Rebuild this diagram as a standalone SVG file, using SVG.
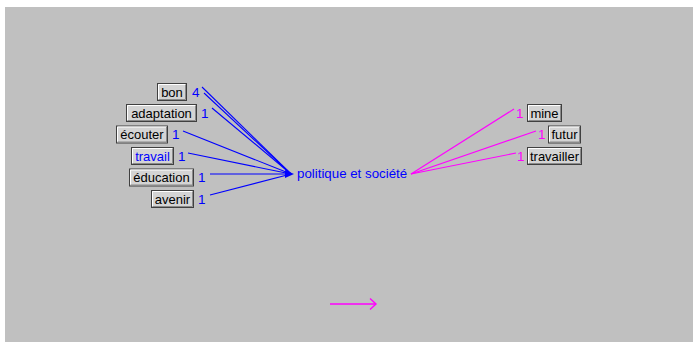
<svg xmlns="http://www.w3.org/2000/svg" width="693" height="342" viewBox="0 0 693 342">
<style>
.bg{fill:#c0c0c0}
.btn{fill:#d4d4d4;stroke:#404040;stroke-width:1}
.hl{fill:none;stroke:#ffffff;stroke-width:1}
.sh{fill:none;stroke:#8a8a8a;stroke-width:1}
.lbl{font-family:"Liberation Sans",Arial,sans-serif;font-size:13px;fill:#000}
.lblb{font-family:"Liberation Sans",Arial,sans-serif;font-size:13px;fill:#0000ff}
.nb{font-family:"Liberation Sans",Arial,sans-serif;font-size:13.5px;fill:#0000ff}
.nm{font-family:"Liberation Sans",Arial,sans-serif;font-size:13.5px;fill:#ff00ff}
.hub{font-family:"Liberation Sans",Arial,sans-serif;font-size:13.3px;fill:#0000ff}
.lb{stroke:#0000ff;stroke-width:1.1;fill:none}
.lm{stroke:#ff00ff;stroke-width:1.1;fill:none}
</style>
<rect x="0" y="0" width="693" height="342" fill="#ffffff"/>
<rect class="bg" x="5" y="7" width="688" height="335"/>
<g id="connectors">
<line class="lb" x1="202" y1="87" x2="291" y2="174"/>
<line class="lb" x1="204" y1="93" x2="291" y2="174"/>
<line class="lb" x1="212" y1="108" x2="291" y2="174"/>
<line class="lb" x1="183" y1="131" x2="291" y2="174"/>
<line class="lb" x1="188" y1="153" x2="291" y2="174"/>
<line class="lb" x1="210" y1="174" x2="291" y2="174"/>
<line class="lb" x1="210" y1="195" x2="291" y2="174"/>
<polygon points="285,170 294,174 285,178" fill="#0000ff"/>
<line class="lm" x1="411" y1="174" x2="514" y2="109"/>
<line class="lm" x1="411" y1="174" x2="536" y2="131"/>
<line class="lm" x1="411" y1="174" x2="516" y2="153"/>
<g id="legend-arrow">
<line x1="330" y1="304" x2="376" y2="304" stroke="#ff00ff" stroke-width="1.6"/>
<polyline points="370,298.5 376,304 370,309.5" fill="none" stroke="#ff00ff" stroke-width="1.4"/>
</g>
</g>
<g id="hub"><text class="hub" x="297" y="178">politique et société</text></g>
<g id="n-bon">
<rect class="btn" x="157.5" y="83.5" width="29" height="17"/>
<polyline class="hl" points="158.5,99.5 158.5,84.5 185.5,84.5"/>
<polyline class="sh" points="158.5,99.5 185.5,99.5 185.5,84.5"/>
<text class="lbl" x="172" y="96.5" text-anchor="middle">bon</text>
<text class="nb" x="192" y="96.5">4</text>
</g>
<g id="n-adaptation">
<rect class="btn" x="126.5" y="104.5" width="70" height="17"/>
<polyline class="hl" points="127.5,120.5 127.5,105.5 195.5,105.5"/>
<polyline class="sh" points="127.5,120.5 195.5,120.5 195.5,105.5"/>
<text class="lbl" x="161.5" y="117.5" text-anchor="middle">adaptation</text>
<text class="nb" x="201" y="117.5">1</text>
</g>
<g id="n-ecouter">
<rect class="btn" x="116.5" y="126" width="51" height="17"/>
<polyline class="hl" points="117.5,142 117.5,127 166.5,127"/>
<polyline class="sh" points="117.5,142 166.5,142 166.5,127"/>
<text class="lbl" x="142" y="139" text-anchor="middle">écouter</text>
<text class="nb" x="172" y="139">1</text>
</g>
<g id="n-travail">
<rect class="btn" x="131.5" y="147.5" width="42" height="17"/>
<polyline class="hl" points="132.5,163.5 132.5,148.5 172.5,148.5"/>
<polyline class="sh" points="132.5,163.5 172.5,163.5 172.5,148.5"/>
<text class="lblb" x="152.5" y="160.5" text-anchor="middle">travail</text>
<text class="nb" x="178" y="160.5">1</text>
</g>
<g id="n-education">
<rect class="btn" x="129.5" y="169" width="64" height="17"/>
<polyline class="hl" points="130.5,185 130.5,170 192.5,170"/>
<polyline class="sh" points="130.5,185 192.5,185 192.5,170"/>
<text class="lbl" x="161.5" y="182" text-anchor="middle">éducation</text>
<text class="nb" x="198" y="182">1</text>
</g>
<g id="n-avenir">
<rect class="btn" x="151.5" y="190.5" width="42" height="17"/>
<polyline class="hl" points="152.5,206.5 152.5,191.5 192.5,191.5"/>
<polyline class="sh" points="152.5,206.5 192.5,206.5 192.5,191.5"/>
<text class="lbl" x="172.5" y="203.5" text-anchor="middle">avenir</text>
<text class="nb" x="198" y="203.5">1</text>
</g>
<g id="n-mine">
<rect class="btn" x="527.5" y="104.5" width="34" height="17"/>
<polyline class="hl" points="528.5,120.5 528.5,105.5 560.5,105.5"/>
<polyline class="sh" points="528.5,120.5 560.5,120.5 560.5,105.5"/>
<text class="lbl" x="544.5" y="117.5" text-anchor="middle">mine</text>
<text class="nm" x="516" y="117.5">1</text>
</g>
<g id="n-futur">
<rect class="btn" x="548.5" y="126" width="32" height="17"/>
<polyline class="hl" points="549.5,142 549.5,127 579.5,127"/>
<polyline class="sh" points="549.5,142 579.5,142 579.5,127"/>
<text class="lbl" x="564.5" y="139" text-anchor="middle">futur</text>
<text class="nm" x="538" y="139">1</text>
</g>
<g id="n-travailler">
<rect class="btn" x="527.5" y="147.5" width="54" height="17"/>
<polyline class="hl" points="528.5,163.5 528.5,148.5 580.5,148.5"/>
<polyline class="sh" points="528.5,163.5 580.5,163.5 580.5,148.5"/>
<text class="lbl" x="554.5" y="160.5" text-anchor="middle">travailler</text>
<text class="nm" x="517" y="160.5">1</text>
</g>
</svg>
